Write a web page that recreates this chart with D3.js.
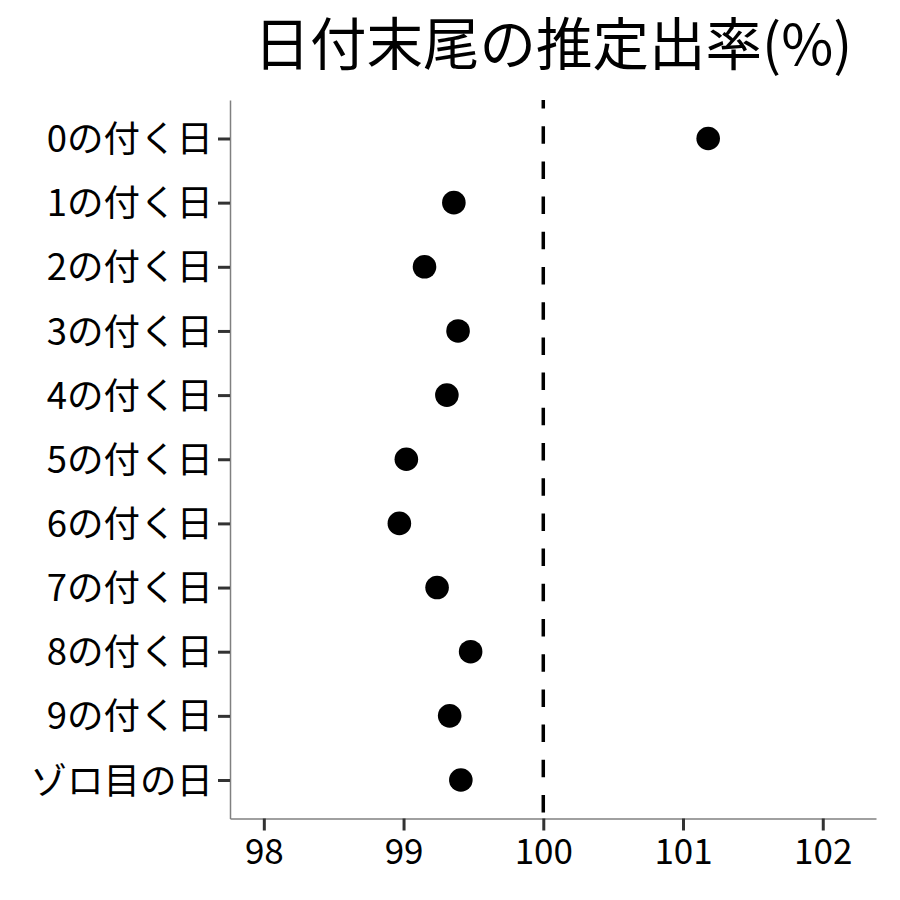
<!DOCTYPE html>
<html>
<head>
<meta charset="utf-8">
<script src="https://cdn.jsdelivr.net/npm/d3@7"></script>
<style>
  body { margin: 0; background: #fff; }
  svg text { font-family: "Noto Sans CJK JP", "Noto Sans", sans-serif; fill: #000; }
</style>
</head>
<body>
<svg class="dotplot"></svg>
<script>
const width = 900;
const height = 900;
const margin = { top: 100, right: 24, bottom: 81.5, left: 230 };

// データ
const categories = [
  "0の付く日", "1の付く日", "2の付く日", "3の付く日", "4の付く日",
  "5の付く日", "6の付く日", "7の付く日", "8の付く日", "9の付く日", "ゾロ目の日"
];
const rates = [101.18, 99.36, 99.15, 99.39, 99.31, 99.02, 98.97, 99.24, 99.48, 99.33, 99.41];
const xTicks = [98, 99, 100, 101, 102];
const refValue = 100;
const title = "日付末尾の推定出率(%)";

const svg = d3.select(".dotplot").attr("width", width).attr("height", height);

const xScale = d3.scaleLinear()
  .domain([97.758, 102.381])
  .range([margin.left, width - margin.right]);

const yScale = d3.scalePoint()
  .domain(categories)
  .range([margin.top, height - margin.bottom])
  .padding(0.6);

// x軸
const xAxis = svg.append("g")
  .attr("transform", `translate(0,${height - margin.bottom})`)
  .call(d3.axisBottom(xScale).tickValues(xTicks).tickSizeInner(12).tickSizeOuter(0)
    .tickPadding(8).tickFormat(d3.format("d")));

// y軸
const yAxis = svg.append("g")
  .attr("transform", `translate(${margin.left},0)`)
  .call(d3.axisLeft(yScale).tickSizeInner(12).tickSizeOuter(0).tickPadding(5));

[xAxis, yAxis].forEach((g) => {
  g.select(".domain").attr("stroke", "#808080").attr("stroke-width", 1.5);
  g.selectAll(".tick line").attr("stroke", "#333").attr("stroke-width", 3);
  g.selectAll(".tick text")
    .attr("fill", "#000")
    .style("font-family", '"Noto Sans CJK JP", sans-serif');
});
xAxis.selectAll(".tick text").attr("dy", "0.72em").style("font-size", "35px");
yAxis.selectAll(".tick text").attr("dy", "0.36em").style("font-size", "36.5px");

// 基準線 100
svg.append("line")
  .attr("x1", xScale(refValue))
  .attr("x2", xScale(refValue))
  .attr("y1", margin.top)
  .attr("y2", height - margin.bottom)
  .attr("stroke", "#000")
  .attr("stroke-width", 3.5)
  .attr("stroke-dasharray", "17.5,17.7")
  .attr("stroke-dashoffset", 9);

// 点
svg.selectAll("circle.dot")
  .data(categories)
  .enter()
  .append("circle")
  .attr("class", "dot")
  .attr("cx", (d, i) => xScale(rates[i]))
  .attr("cy", (d) => yScale(d))
  .attr("r", 11.8)
  .attr("fill", "#000");

// タイトル
svg.append("text")
  .attr("x", (margin.left + width - margin.right) / 2)
  .attr("y", 65)
  .attr("text-anchor", "middle")
  .style("font-size", "56.5px")
  .text(title);
</script>
</body>
</html>
